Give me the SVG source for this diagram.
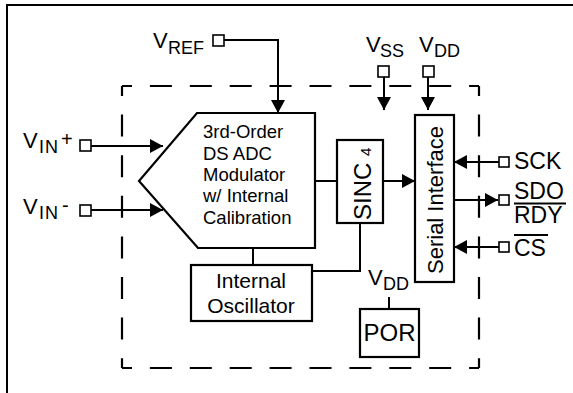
<svg xmlns="http://www.w3.org/2000/svg" width="573" height="393" viewBox="0 0 573 393">
<defs>
<style>
.ln{fill:none;stroke:#000;stroke-width:2}
.box{fill:#fff;stroke:#000;stroke-width:2.2}
.pin{fill:#fff;stroke:#000;stroke-width:1.6}
.dash{fill:none;stroke:#000;stroke-width:2.2;stroke-dasharray:22 17.9;stroke-dashoffset:12}
.dashv{fill:none;stroke:#000;stroke-width:2.2;stroke-dasharray:22 18.6;stroke-dashoffset:12}
text{font-family:"Liberation Sans",Arial,sans-serif;fill:#000}
.lbl{font-size:22px}
.sub{font-size:18px}
.mod{font-size:18.5px}
.osc{font-size:21px}
</style>
<marker id="arr" markerUnits="userSpaceOnUse" markerWidth="14" markerHeight="14" refX="13" refY="7" orient="auto">
<path d="M0,0 L13,7 L0,14 Z" fill="#000"/>
</marker>
</defs>
<rect width="573" height="393" fill="#fff"/>
<g id="frame">
<path class="ln" d="M7,393 V5 H573" stroke-width="2.4"/>
</g>
<g id="boundary">
<path class="dash" d="M122,86 H479"/>
<path class="dash" d="M122,368 H479"/>
<path class="dashv" d="M122,86 V368"/>
<path class="dashv" d="M479,86 V368"/>
</g>
<g id="connectors">
<path class="ln" d="M224,40 H278 V113" marker-end="url(#arr)"/>
<path class="ln" d="M384,77 V110" marker-end="url(#arr)"/>
<path class="ln" d="M428,77 V110" marker-end="url(#arr)"/>
<path class="ln" d="M91,146 H163" marker-end="url(#arr)"/>
<path class="ln" d="M91,210 H163" marker-end="url(#arr)"/>
<path class="ln" d="M315,181 H337"/>
<path class="ln" d="M383,181 H415" marker-end="url(#arr)"/>
<path class="ln" d="M499,162 H454" marker-end="url(#arr)"/>
<path class="ln" d="M454,200 H498" marker-end="url(#arr)"/>
<path class="ln" d="M499,247 H454" marker-end="url(#arr)"/>
<path class="ln" d="M253,248 V265"/>
<path class="ln" d="M312,271 H360 V223"/>
<path class="ln" d="M389,297 V309"/>
</g>
<g id="vref">
<rect class="pin" x="213" y="35" width="11" height="11"/>
<text class="lbl" x="153" y="48">V<tspan class="sub" x="168" y="53.5">REF</tspan></text>
</g>
<g id="vss">
<rect class="pin" x="378" y="66" width="11" height="11"/>
<text class="lbl" x="366" y="52">V<tspan class="sub" x="380" y="57">SS</tspan></text>
</g>
<g id="vdd">
<rect class="pin" x="423" y="66" width="11" height="11"/>
<text class="lbl" x="419" y="52">V<tspan class="sub" x="434" y="57">DD</tspan></text>
</g>
<g id="vinp">
<rect class="pin" x="80" y="140" width="11" height="11"/>
<text class="lbl" x="23" y="148">V<tspan class="sub" x="39" y="153" letter-spacing="1">IN</tspan><tspan x="61" y="146" font-size="20">+</tspan></text>
</g>
<g id="vinm">
<rect class="pin" x="80" y="205" width="11" height="11"/>
<text class="lbl" x="23" y="214">V<tspan class="sub" x="39" y="219" letter-spacing="1">IN</tspan><tspan x="62" y="212" font-size="20">-</tspan></text>
</g>
<g id="modulator">
<path class="box" stroke-width="1.8" d="M197,113 H315 V248 H198 L139,181 Z"/>
<text class="mod" x="203" y="138">3rd-Order</text>
<text class="mod" x="203" y="159.5">DS ADC</text>
<text class="mod" x="203" y="181">Modulator</text>
<text class="mod" x="203" y="202">w/ Internal</text>
<text class="mod" x="203" y="223.5">Calibration</text>
</g>
<g id="sinc">
<rect class="box" x="337" y="140" width="46" height="83"/>
<text transform="translate(371,220) rotate(-90)" font-size="24">SINC <tspan font-size="15">4</tspan></text>
</g>
<g id="serial">
<rect class="box" x="415" y="115" width="39" height="167"/>
<text transform="translate(443,200) rotate(-90)" font-size="22" text-anchor="middle">Serial Interface</text>
</g>
<g id="oscillator">
<rect class="box" x="191" y="265" width="121" height="56"/>
<text class="osc" x="251" y="288" text-anchor="middle">Internal</text>
<text class="osc" x="251" y="313" text-anchor="middle">Oscillator</text>
</g>
<g id="por">
<text class="lbl" x="368" y="285">V<tspan class="sub" x="383" y="290">DD</tspan></text>
<rect class="box" x="360" y="309" width="59" height="48"/>
<text x="389.5" y="341" font-size="24" text-anchor="middle">POR</text>
</g>
<g id="sck">
<rect class="pin" x="499" y="157" width="10" height="10"/>
<text x="514" y="169" font-size="23">SCK</text>
</g>
<g id="sdo">
<rect class="pin" x="499" y="195" width="10" height="10"/>
<text x="514" y="199" font-size="23">SDO</text>
<path class="ln" d="M514,203.5 H566" stroke-width="1.8"/>
<text x="514" y="223" font-size="23">RDY</text>
</g>
<g id="cs">
<rect class="pin" x="499" y="242" width="10" height="10"/>
<path class="ln" d="M514,235 H548" stroke-width="1.8"/>
<text x="514" y="256" font-size="23">CS</text>
</g>
</svg>
